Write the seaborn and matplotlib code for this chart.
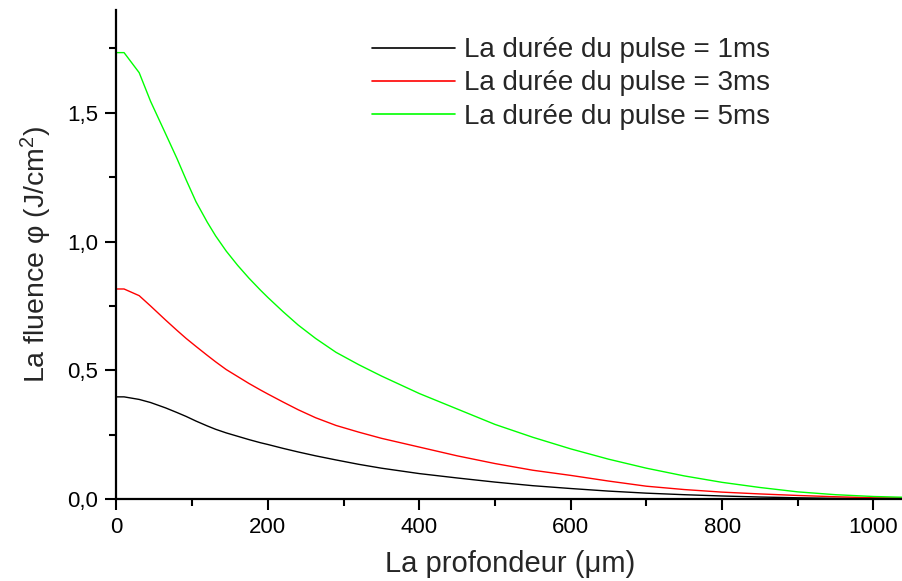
import matplotlib
matplotlib.use("Agg")
import matplotlib.pyplot as plt
from matplotlib.ticker import MultipleLocator, FuncFormatter
import pandas as pd
import seaborn as sns

# Depth (µm) and fluence (J/cm²) for three pulse durations
depth = [0, 10, 30, 45, 65, 80, 92, 105, 120, 131, 145, 160, 175, 190, 200,
         220, 240, 263, 290, 320, 350, 400, 450, 500, 550, 600, 650, 700,
         750, 800, 850, 900, 950, 1000, 1040]
fluence_1ms = [0.397, 0.397, 0.387, 0.375, 0.354, 0.336, 0.321, 0.303, 0.284,
               0.271, 0.257, 0.244, 0.231, 0.219, 0.212, 0.197, 0.183, 0.168,
               0.152, 0.135, 0.120, 0.099, 0.082, 0.066, 0.052, 0.041, 0.031,
               0.023, 0.017, 0.012, 0.008, 0.005, 0.003, 0.002, 0.001]
fluence_3ms = [0.816, 0.816, 0.790, 0.750, 0.695, 0.655, 0.624, 0.593, 0.558,
               0.533, 0.503, 0.476, 0.449, 0.424, 0.408, 0.377, 0.347, 0.316,
               0.286, 0.260, 0.236, 0.202, 0.168, 0.138, 0.112, 0.092, 0.070,
               0.050, 0.037, 0.027, 0.020, 0.014, 0.009, 0.005, 0.004]
fluence_5ms = [1.734, 1.734, 1.656, 1.545, 1.418, 1.322, 1.240, 1.155, 1.075,
               1.022, 0.963, 0.908, 0.858, 0.812, 0.783, 0.728, 0.676, 0.624,
               0.570, 0.522, 0.478, 0.410, 0.350, 0.290, 0.240, 0.195, 0.155,
               0.120, 0.090, 0.065, 0.045, 0.028, 0.017, 0.010, 0.007]
series_labels = ["La durée du pulse = 1ms",
                 "La durée du pulse = 3ms",
                 "La durée du pulse = 5ms"]
series_colors = ["#000000", "#ff0000", "#00ff00"]

frames = []
for label, values in zip(series_labels, [fluence_1ms, fluence_3ms, fluence_5ms]):
    frames.append(pd.DataFrame({"depth": depth, "fluence": values, "pulse": label}))
data = pd.concat(frames, ignore_index=True)

sns.set_style("ticks")
plt.rcParams["font.family"] = ["Liberation Sans", "DejaVu Sans"]
plt.rcParams["mathtext.fontset"] = "custom"
plt.rcParams["mathtext.rm"] = "Liberation Sans"
plt.rcParams["mathtext.it"] = "Liberation Sans"

fig = plt.figure(figsize=(9.03, 5.81), dpi=100)
ax = fig.add_axes([0.129, 0.141, 0.871, 0.842])

sns.lineplot(data=data, x="depth", y="fluence", hue="pulse",
             palette=dict(zip(series_labels, series_colors)),
             hue_order=series_labels, linewidth=1.0, ax=ax, legend=True,
             estimator=None, sort=False)

ax.set_xlim(0, 1039)
ax.set_ylim(0, 1.9)
ax.xaxis.set_major_locator(MultipleLocator(200))
ax.xaxis.set_minor_locator(MultipleLocator(100))
ax.yaxis.set_major_locator(MultipleLocator(0.5))
ax.yaxis.set_minor_locator(MultipleLocator(0.25))
ax.yaxis.set_major_formatter(FuncFormatter(lambda v, p: f"{v:.1f}".replace(".", ",")))
ax.xaxis.set_major_formatter(FuncFormatter(lambda v, p: f"{v:.0f}"))

for side in ["top", "right"]:
    ax.spines[side].set_visible(False)
for side in ["left", "bottom"]:
    ax.spines[side].set_linewidth(1.6)
    ax.spines[side].set_color("black")

ax.tick_params(axis="both", which="major", direction="out", length=8, width=1.5,
               labelsize=16, colors="black", pad=5)
ax.tick_params(axis="both", which="minor", direction="out", length=5, width=1.5,
               colors="black")

ax.set_xlabel("La profondeur (μm)", fontsize=21, labelpad=8.5)
ax.set_ylabel("La fluence φ (J/cm$^{2}$)", fontsize=20.5, labelpad=10)

leg = ax.legend(loc="upper left", bbox_to_anchor=(0.325, 0.944), frameon=False,
                fontsize=20, handlelength=3.0, handletextpad=0.3,
                labelspacing=0.26, borderaxespad=0, borderpad=0)
for line in leg.get_lines():
    line.set_linewidth(1.2)

fig.savefig("out.png", dpi=100)
